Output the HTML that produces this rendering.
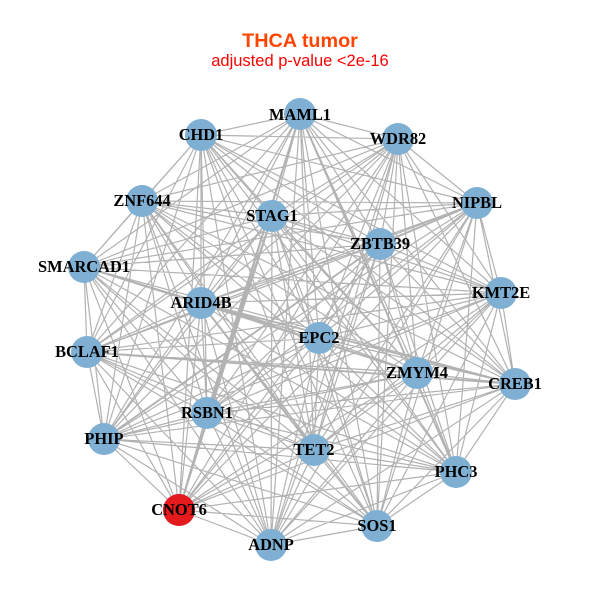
<!DOCTYPE html>
<html><head><meta charset="utf-8"><style>
html,body{margin:0;padding:0;background:#fff}
svg{display:block}
.l{font:bold 16.4px "Liberation Serif",serif;fill:#000;text-anchor:middle}
</style></head><body>
<svg id="s" xmlns="http://www.w3.org/2000/svg" width="600" height="600" viewBox="0 0 600 600">
<rect width="600" height="600" fill="#fff"/>
<text x="300" y="47" text-anchor="middle" style="font:bold 19.8px 'Liberation Sans',sans-serif" fill="#ff4500">THCA tumor</text>
<text x="300" y="66" text-anchor="middle" style="font:16.5px 'Liberation Sans',sans-serif" fill="#ff0000">adjusted p-value &lt;2e-16</text>
<path id="e" fill="none" stroke="#b2b2b2" stroke-width="1.2"/>
<path id="t" fill="none" stroke="#b2b2b2" stroke-width="1.9"/>
<g id="n" fill="#7fb0d4"></g>
<circle cx="179" cy="510" r="16" fill="#e41a1c"/>
<text class="l" x="300" y="120">MAML1</text>
<text class="l" x="201" y="140">CHD1</text>
<text class="l" x="398" y="144">WDR82</text>
<text class="l" x="142" y="206">ZNF644</text>
<text class="l" x="477" y="208">NIPBL</text>
<text class="l" x="272" y="221">STAG1</text>
<text class="l" x="380" y="249">ZBTB39</text>
<text class="l" x="84" y="272">SMARCAD1</text>
<text class="l" x="501" y="298">KMT2E</text>
<text class="l" x="201" y="308">ARID4B</text>
<text class="l" x="319" y="343">EPC2</text>
<text class="l" x="87" y="357">BCLAF1</text>
<text class="l" x="417" y="378">ZMYM4</text>
<text class="l" x="515" y="389">CREB1</text>
<text class="l" x="207" y="418">RSBN1</text>
<text class="l" x="104" y="444">PHIP</text>
<text class="l" x="314" y="455">TET2</text>
<text class="l" x="456" y="477">PHC3</text>
<text class="l" x="179" y="515">CNOT6</text>
<text class="l" x="377" y="531">SOS1</text>
<text class="l" x="271" y="550">ADNP</text>
</svg>
<script>
var p=[[300,114],[201,135],[398,139],[142,201],[477,203],[272,216],[380,244],[84,267],[501,293],[201,303],[319,338],[87,352],[417,373],[515,384],[207,413],[104,439],[314,450],[456,472],[179,510],[377,526],[271,545]];
var d="",i,j,g="";
for(i=0;i<p.length;i++){for(j=i+1;j<p.length;j++){d+="M"+p[i][0]+" "+p[i][1]+"L"+p[j][0]+" "+p[j][1];}
g+='<circle cx="'+p[i][0]+'" cy="'+p[i][1]+'" r="16"/>';}
document.getElementById("e").setAttribute("d",d);
document.getElementById("n").innerHTML=g;
var th=[[5,18],[5,14],[9,12],[9,13],[0,14],[9,16],[6,15],[0,17],[7,9],[4,6],[11,13]],t="";
th.forEach(function(a){t+="M"+p[a[0]][0]+" "+p[a[0]][1]+"L"+p[a[1]][0]+" "+p[a[1]][1];});
document.getElementById("t").setAttribute("d",t);
</script>
</body></html>
